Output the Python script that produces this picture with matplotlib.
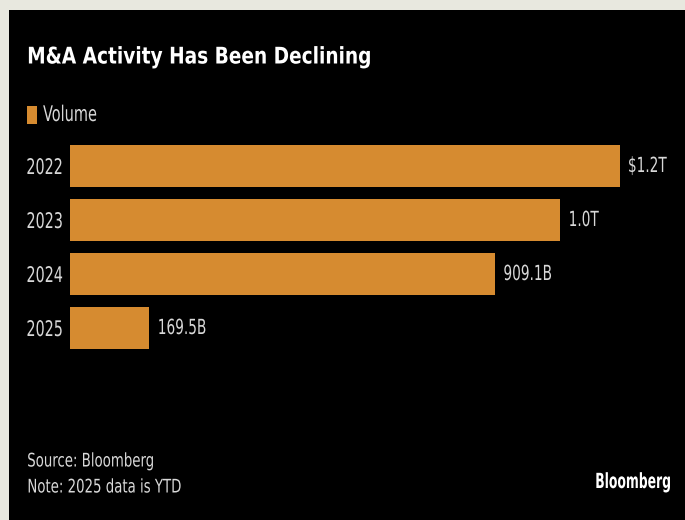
import matplotlib.pyplot as plt
from matplotlib.patches import Rectangle
from matplotlib.patheffects import AbstractPathEffect
from matplotlib.transforms import Affine2D

years = ["2022", "2023", "2024", "2025"]
volume = [1175, 1048, 909.1, 169.5]  # billions USD
value_labels = ["$1.2T", "1.0T", "909.1B", "169.5B"]

bar_color = "#D68B30"
text_color = "#D8D8D8"
font = "DejaVu Sans"


class Squeeze(AbstractPathEffect):
    # narrow the glyphs horizontally, keeping the left (or right) edge in place
    def __init__(self, sx, anchor="left"):
        super().__init__()
        self.sx = sx
        self.anchor = anchor

    def draw_path(self, renderer, gc, tpath, affine, rgbFace=None):
        ext = tpath.get_extents(affine)
        x0 = ext.x0 if self.anchor == "left" else ext.x1
        t = affine + Affine2D().translate(-x0, 0).scale(self.sx, 1).translate(x0, 0)
        renderer.draw_path(gc, tpath, t, rgbFace)


fig = plt.figure(figsize=(6.85, 5.2), dpi=100, facecolor="#E8E8DF")
# black panel inside the light border
fig.patches.append(Rectangle((9 / 685, 0), 1, 1 - 10 / 520, transform=fig.transFigure,
                             facecolor="black", edgecolor="none", zorder=-10))

ax = fig.add_axes([70 / 685, 1 - 355 / 520, 608 / 685, 216 / 520])
ax.set_zorder(5)
ax.set_facecolor("black")
ax.barh(range(len(years)), volume, height=0.78, color=bar_color)
ax.set_xlim(0, 1300)
ax.set_ylim(len(years) - 0.5, -0.5)

for i, (v, lab) in enumerate(zip(volume, value_labels)):
    ax.text(v + 17, i, lab, color=text_color, fontsize=15, va="center", ha="left",
            family=font, fontstretch="condensed", path_effects=[Squeeze(0.73)])

ax.set_yticks(range(len(years)))
ax.set_yticklabels(years, color=text_color, fontsize=15.5, family=font, fontstretch="condensed")
for t in ax.get_yticklabels():
    t.set_path_effects([Squeeze(0.74, "right")])
ax.tick_params(axis="y", length=0, pad=5)
ax.set_xticks([])
for s in ax.spines.values():
    s.set_visible(False)

fig.text(27 / 685, 1 - 57 / 520, "M&A Activity Has Been Declining", color="white",
         fontsize=16.5, fontweight="bold", va="center", ha="left", family=font,
         fontstretch="condensed", path_effects=[Squeeze(0.9)])

fig.patches.append(Rectangle((27 / 685, 1 - 124 / 520), 10 / 685, 18 / 520, transform=fig.transFigure,
                             facecolor=bar_color, edgecolor="none"))
fig.text(43 / 685, 1 - 115 / 520, "Volume", color=text_color, fontsize=15.5, va="center", ha="left",
         family=font, fontstretch="condensed", path_effects=[Squeeze(0.75)])

fig.text(27 / 685, 1 - 461 / 520, "Source: Bloomberg", color=text_color, fontsize=13.5,
         va="center", ha="left", family=font, fontstretch="condensed", path_effects=[Squeeze(0.79)])
fig.text(27 / 685, 1 - 487 / 520, "Note: 2025 data is YTD", color=text_color, fontsize=13.5,
         va="center", ha="left", family=font, fontstretch="condensed", path_effects=[Squeeze(0.79)])
fig.text(672 / 685, 1 - 482 / 520, "Bloomberg", color="white", fontsize=15, fontweight="bold",
         va="center", ha="right", family=font, fontstretch="condensed",
         path_effects=[Squeeze(0.66, "right")])

fig.savefig("out.png", dpi=100, facecolor=fig.get_facecolor())
